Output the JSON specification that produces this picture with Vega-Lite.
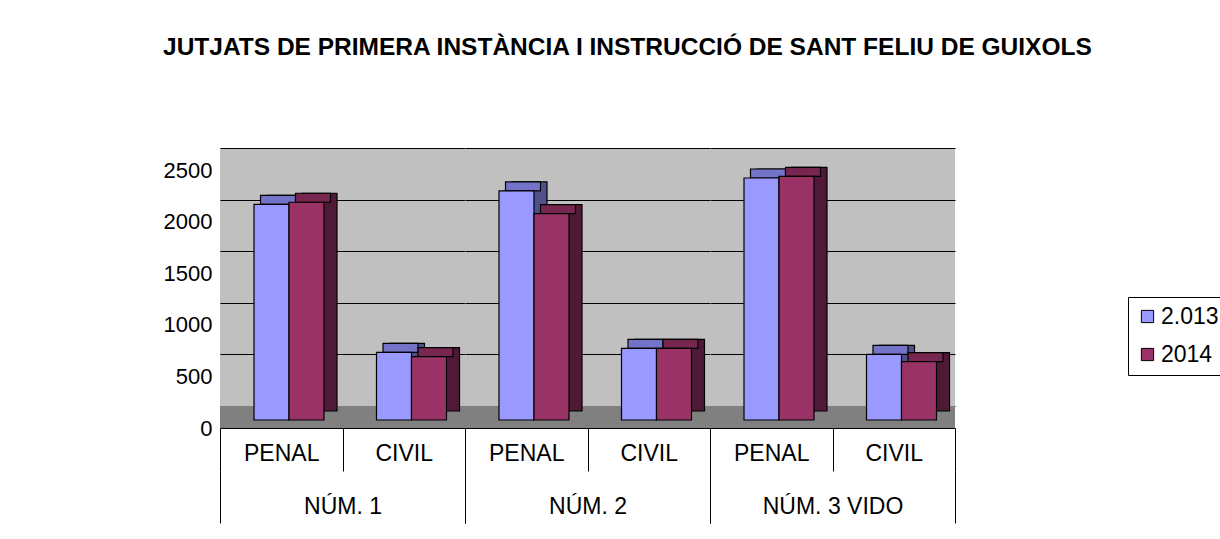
{
  "$schema": "https://vega.github.io/schema/vega-lite/v6.json",
  "padding": {"left": 163, "top": 34, "right": 2, "bottom": 2},
  "background": "white",
  "bounds": "flush",
  "title": {
    "text": "JUTJATS DE PRIMERA INSTÀNCIA I INSTRUCCIÓ DE SANT FELIU DE GUIXOLS",
    "font": "Liberation Sans", "fontSize": 24.5, "fontWeight": "bold", "color": "black",
    "anchor": "start", "frame": "group", "offset": 88, "dx": -57
  },
  "data": {"values": [
    {"group": "NÚM. 1", "type": "PENAL", "year": "2.013", "value": 2090},
    {"group": "NÚM. 1", "type": "PENAL", "year": "2014", "value": 2110},
    {"group": "NÚM. 1", "type": "CIVIL", "year": "2.013", "value": 655},
    {"group": "NÚM. 1", "type": "CIVIL", "year": "2014", "value": 615},
    {"group": "NÚM. 2", "type": "PENAL", "year": "2.013", "value": 2220},
    {"group": "NÚM. 2", "type": "PENAL", "year": "2014", "value": 2000},
    {"group": "NÚM. 2", "type": "CIVIL", "year": "2.013", "value": 695},
    {"group": "NÚM. 2", "type": "CIVIL", "year": "2014", "value": 695},
    {"group": "NÚM. 3 VIDO", "type": "PENAL", "year": "2.013", "value": 2345},
    {"group": "NÚM. 3 VIDO", "type": "PENAL", "year": "2014", "value": 2360},
    {"group": "NÚM. 3 VIDO", "type": "CIVIL", "year": "2.013", "value": 635},
    {"group": "NÚM. 3 VIDO", "type": "CIVIL", "year": "2014", "value": 565}
  ]},
  "facet": {"column": {"field": "group", "type": "nominal", "sort": ["NÚM. 1", "NÚM. 2", "NÚM. 3 VIDO"], "header": {"title": null, "labels": false}}},
  "spacing": 0,
  "resolve": {"scale": {"x": "independent"}},
  "spec": {
    "width": 245,
    "height": 258,
    "resolve": {"scale": {"x": "independent"}},
    "layer": [
      {
        "mark": {"type": "rect", "fill": "#808080", "y2Offset": 22},
        "encoding": {
          "x": {"field": "group", "type": "nominal", "scale": {"paddingInner": 0, "paddingOuter": 0},
                "axis": {"title": null, "orient": "bottom", "offset": 65, "domain": false, "tickBand": "extent", "tickSize": 52, "tickColor": "black", "labelPadding": -17, "labelBaseline": "middle", "labelAngle": 0, "labelFontSize": 23}},
          "y": {"datum": 0, "type": "quantitative", "scale": {"domain": [0, 2500], "nice": false},
                "axis": {"title": null, "values": [0, 500, 1000, 1500, 2000, 2500], "format": "d", "grid": true, "gridColor": "black", "gridWidth": 1, "ticks": false, "domainColor": "#808080", "labelOffset": 22, "labelPadding": 8, "labelFontSize": 22}},
          "y2": {"datum": 0}
        }
      },
      {
        "resolve": {"scale": {"xOffset": "independent"}},
        "layer": [
          {
            "mark": {"type": "bar", "yOffset": 5, "y2Offset": 5, "stroke": "black", "strokeWidth": 1.2},
            "encoding": {
              "x": {"field": "type", "type": "nominal", "sort": ["PENAL", "CIVIL"], "scale": {"paddingInner": 0, "paddingOuter": 0},
                    "axis": {"title": null, "orient": "bottom", "offset": 22, "domain": true, "domainColor": "black", "tickBand": "extent", "tickSize": 43, "tickColor": "black", "labelPadding": -18, "labelBaseline": "middle", "labelAngle": 0, "labelFontSize": 23}},
              "xOffset": {"field": "year", "type": "nominal", "sort": ["2.013", "2014"], "scale": {"range": [47, 117], "paddingInner": 0, "paddingOuter": 0}},
              "y": {"field": "value", "type": "quantitative", "scale": {"domain": [0, 2500], "nice": false},
                    "axis": {"title": null, "values": [0, 500, 1000, 1500, 2000, 2500], "format": "d", "grid": true, "gridColor": "black", "gridWidth": 1, "ticks": false, "domainColor": "#808080", "labelOffset": 22, "labelPadding": 8, "labelFontSize": 22}},
              "fill": {"condition": {"test": "datum.year === '2014'", "value": "#4F1A35"}, "value": "#50508A"}
            }
          },
          {
            "mark": {"type": "bar", "yOffset": 5, "y2Offset": 14, "stroke": "black", "strokeWidth": 1.2},
            "encoding": {
              "x": {"field": "type", "type": "nominal", "sort": ["PENAL", "CIVIL"]},
              "xOffset": {"field": "year", "type": "nominal", "sort": ["2.013", "2014"], "scale": {"range": [40.5, 110.5], "paddingInner": 0, "paddingOuter": 0}},
              "y": {"field": "value", "type": "quantitative"},
              "y2": {"field": "value"},
              "fill": {"condition": {"test": "datum.year === '2014'", "value": "#76264F"}, "value": "#7373C9"}
            }
          },
          {
            "mark": {"type": "bar", "yOffset": 14, "y2Offset": 14, "stroke": "black", "strokeWidth": 1.2},
            "encoding": {
              "x": {"field": "type", "type": "nominal", "sort": ["PENAL", "CIVIL"]},
              "xOffset": {"field": "year", "type": "nominal", "sort": ["2.013", "2014"], "scale": {"range": [34, 104], "paddingInner": 0, "paddingOuter": 0}},
              "y": {"field": "value", "type": "quantitative"},
              "color": {"field": "year", "type": "nominal", "sort": ["2.013", "2014"],
                        "scale": {"domain": ["2.013", "2014"], "range": ["#9999FF", "#993366"]},
                        "legend": {"orient": "none", "legendX": 908, "legendY": 149, "title": null}}
            }
          }
        ]
      }
    ]
  },
  "config": {
    "font": "Liberation Sans",
    "view": {"fill": "#C0C0C0", "stroke": null},
    "axis": {"labelFont": "Liberation Sans", "labelFontSize": 22, "labelColor": "black"},
    "legend": {
      "strokeColor": "black", "fillColor": "white", "padding": 8,
      "symbolType": "square", "symbolSize": 150, "symbolStrokeColor": "black", "symbolStrokeWidth": 1,
      "labelFont": "Liberation Sans", "labelFontSize": 23, "labelColor": "black", "labelOffset": 2,
      "rowPadding": 14
    }
  }
}
